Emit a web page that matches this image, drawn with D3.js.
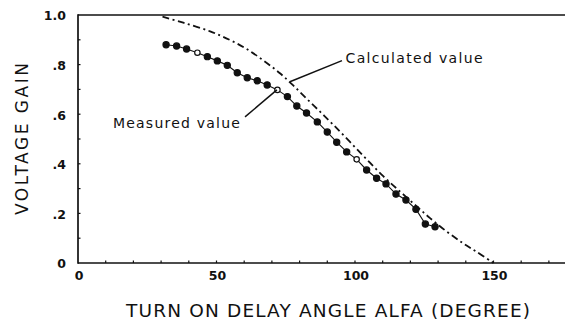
<!DOCTYPE html>
<html>
<head>
<meta charset="utf-8">
<script src="https://cdn.jsdelivr.net/npm/d3@7"></script>
<style>
  body { margin: 0; background: #fff; }
  svg { display: block; }
  text { font-family: "DejaVu Sans", sans-serif; fill: #111; }
  .ticklabel { font-weight: bold; font-size: 12.5px; }
</style>
</head>
<body>
<svg id="chart" width="565" height="320"></svg>
<script>
// measured points (alfa in degree, voltage gain)
var measuredAlfa = [31.8, 35.6, 39.2, 43.1, 46.7, 50.3, 53.9, 57.5, 61.1, 64.7, 68.3, 72.0, 75.6, 79.0,
  82.5, 86.4, 90.0, 93.4, 97.0, 100.6, 104.2, 107.8, 111.2, 114.8, 118.4, 122.0, 125.4, 128.9];
var measuredGain = [0.880, 0.875, 0.863, 0.848, 0.832, 0.815, 0.797, 0.767, 0.747, 0.735, 0.718, 0.698, 0.671, 0.633,
  0.605, 0.569, 0.528, 0.487, 0.448, 0.418, 0.375, 0.342, 0.319, 0.278, 0.254, 0.217, 0.157, 0.146];
// which of the measured points are drawn as open circles
var measuredOpen = [3, 11, 19];

// calculated curve
var calcAlfa = [30.5, 38.0, 47.7, 54.9, 60.9, 66.9, 72.9, 77.7, 82.6, 87.4, 92.2, 98.2,
  104.2, 110.2, 116.2, 122.3, 127.1, 133.1, 139.1, 143.9, 150];
var calcGain = [0.993, 0.969, 0.934, 0.899, 0.863, 0.817, 0.765, 0.716, 0.662, 0.610, 0.557, 0.488,
  0.418, 0.350, 0.289, 0.228, 0.181, 0.127, 0.079, 0.045, 0.0];

var xTicks = [0, 50, 100, 150];
var yTicks = [0, 0.2, 0.4, 0.6, 0.8, 1.0];
var yTickLabels = ['0', '.2', '.4', '.6', '.8', '1.0'];

var xTitle = 'TURN ON DELAY ANGLE ALFA (DEGREE)';
var yTitle = 'VOLTAGE GAIN';

// annotations: text anchor and leader line, in data units
var notes = [
  { label: 'Calculated value', tx: 96.6, ty: 0.806, width: 137, from: [95.3, 0.816], to: [76.5, 0.731] },
  { label: 'Measured value', tx: 12.6, ty: 0.544, width: 127, from: [60.3, 0.589], to: [71.8, 0.698] }
];

var svg = d3.select('#chart');

var x = d3.scaleLinear().domain([0, 176]).range([78, 565.5]);
var y = d3.scaleLinear().domain([0, 1]).range([263, 15]);

// frame: left, bottom and top lines
var frame = svg.append('g').attr('stroke', '#111').attr('stroke-width', 1.7).attr('fill', 'none');
frame.append('line').attr('x1', x(0)).attr('x2', x(0)).attr('y1', y(1) - 0.8).attr('y2', y(0) + 0.8);
frame.append('line').attr('x1', x(0)).attr('x2', x(176)).attr('y1', y(0)).attr('y2', y(0));
frame.append('line').attr('x1', x(0)).attr('x2', x(176)).attr('y1', y(1)).attr('y2', y(1));

// small inward tick marks
var ticks = svg.append('g').attr('stroke', '#111').attr('stroke-width', 1.2);
d3.range(0.1, 1.0, 0.1).forEach(function(v) {
  ticks.append('line').attr('x1', x(0)).attr('x2', x(0) + 2.5).attr('y1', y(v)).attr('y2', y(v));
});
d3.range(10, 176, 10).forEach(function(v) {
  ticks.append('line').attr('x1', x(v)).attr('x2', x(v)).attr('y1', y(0)).attr('y2', y(0) - 2.5);
});

// tick labels
svg.append('g').selectAll('text').data(yTicks).enter().append('text')
  .attr('class', 'ticklabel')
  .attr('x', x(0) - 12)
  .attr('y', function(d) { return y(d) + 1; })
  .attr('dy', '0.35em')
  .attr('text-anchor', 'end')
  .text(function(d, i) { return yTickLabels[i]; });

svg.append('g').selectAll('text').data(xTicks).enter().append('text')
  .attr('class', 'ticklabel')
  .attr('x', function(d) { return x(d) + 1; })
  .attr('y', y(0) + 13)
  .attr('dy', '0.35em')
  .attr('text-anchor', 'middle')
  .text(function(d) { return d; });

// axis titles
svg.append('text')
  .attr('x', 328).attr('y', 316.5)
  .attr('text-anchor', 'middle')
  .attr('font-size', 18.5)
  .attr('textLength', 404).attr('lengthAdjust', 'spacing')
  .text(xTitle);

svg.append('text')
  .attr('transform', 'translate(27.5,139) rotate(-90)')
  .attr('text-anchor', 'middle')
  .attr('font-size', 17)
  .attr('textLength', 152).attr('lengthAdjust', 'spacing')
  .text(yTitle);

// calculated curve, dash-dot
var calcLine = d3.line()
  .x(function(d) { return x(d[0]); })
  .y(function(d) { return y(d[1]); })
  .curve(d3.curveCatmullRom);

svg.append('path')
  .datum(d3.zip(calcAlfa, calcGain))
  .attr('d', calcLine)
  .attr('fill', 'none')
  .attr('stroke', '#111')
  .attr('stroke-width', 1.8)
  .attr('stroke-dasharray', '7,3.5,2,3.5');

// measured points joined by a thin line
var measured = d3.zip(measuredAlfa, measuredGain);
svg.append('path')
  .datum(measured)
  .attr('d', d3.line().x(function(d) { return x(d[0]); }).y(function(d) { return y(d[1]); }))
  .attr('fill', 'none')
  .attr('stroke', '#111')
  .attr('stroke-width', 1.1);

svg.append('g').selectAll('circle').data(measured).enter().append('circle')
  .attr('cx', function(d) { return x(d[0]); })
  .attr('cy', function(d) { return y(d[1]); })
  .attr('r', function(d, i) { return measuredOpen.indexOf(i) >= 0 ? 2.7 : 3.1; })
  .attr('fill', function(d, i) { return measuredOpen.indexOf(i) >= 0 ? '#fff' : '#111'; })
  .attr('stroke', '#111')
  .attr('stroke-width', 1.2);

// annotations
notes.forEach(function(n) {
  svg.append('line')
    .attr('x1', x(n.from[0])).attr('y1', y(n.from[1]))
    .attr('x2', x(n.to[0])).attr('y2', y(n.to[1]))
    .attr('stroke', '#111').attr('stroke-width', 1.5);
  svg.append('text')
    .attr('x', x(n.tx)).attr('y', y(n.ty))
    .attr('font-size', 14)
    .attr('textLength', n.width).attr('lengthAdjust', 'spacing')
    .text(n.label);
});
</script>
</body>
</html>
